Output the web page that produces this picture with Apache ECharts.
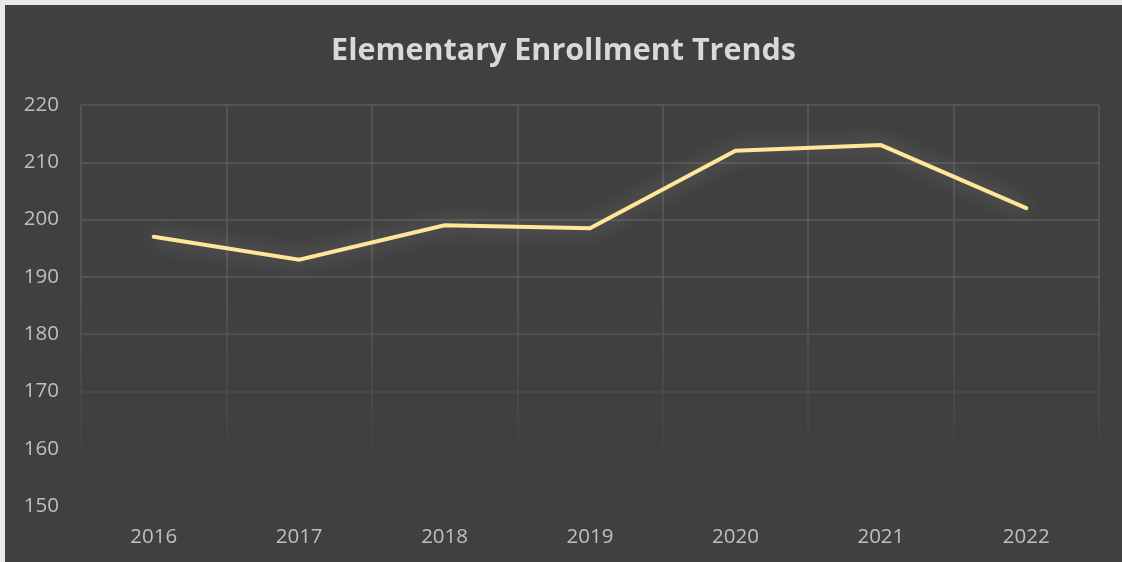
<!DOCTYPE html>
<html>
<head>
<meta charset="utf-8">
<script src="https://cdn.jsdelivr.net/npm/echarts@6/dist/echarts.min.js"></script>
<style>
  html, body { margin: 0; padding: 0; background: #e9e9e9; }
  #chart { position: absolute; left: 5px; top: 5px; width: 1117px; height: 557px; }
</style>
</head>
<body>
<div id="chart"></div>
<script>
// Enrollment per school year
const years = ['2016', '2017', '2018', '2019', '2020', '2021', '2022'];
const enrollment = [197, 193, 199, 198.5, 212, 213, 202];
const yTicks = { min: 150, max: 220, step: 10 };

const chart = echarts.init(document.getElementById('chart'));
const font = '"Open Sans", Lato, sans-serif';

chart.setOption({
  backgroundColor: '#404040',
  animation: false,
  title: {
    text: 'Elementary Enrollment Trends',
    left: 'center',
    top: 26,
    textStyle: { color: '#d9d9d9', fontFamily: font, fontWeight: 'bold', fontSize: 30.5 }
  },
  grid: { left: 76, right: 23, top: 100, bottom: 56 },
  xAxis: {
    type: 'category',
    data: years,
    boundaryGap: true,
    axisLine: { show: false },
    axisTick: { show: false },
    axisLabel: { color: '#bfbfbf', fontFamily: font, fontSize: 20.5, margin: 21 },
    splitLine: { show: true, lineStyle: { color: '#5a5a5a', width: 1.5 } }
  },
  yAxis: {
    type: 'value',
    min: yTicks.min,
    max: yTicks.max,
    interval: yTicks.step,
    axisLine: { show: false },
    axisTick: { show: false },
    axisLabel: { color: '#bfbfbf', fontFamily: font, fontSize: 20.5, margin: 22 },
    splitLine: { lineStyle: { color: '#5a5a5a', width: 1.5 } }
  },
  // soft fade of the gridlines towards the bottom of the plot
  graphic: [{
    type: 'rect',
    z: 1,
    silent: true,
    shape: { x: 74, y: 290, width: 1022, height: 216 },
    style: {
      fill: new echarts.graphic.LinearGradient(0, 0, 0, 1, [
        { offset: 0, color: 'rgba(64,64,64,0)' },
        { offset: 0.72, color: 'rgba(64,64,64,0.88)' },
        { offset: 0.8, color: 'rgba(64,64,64,1)' },
        { offset: 1, color: 'rgba(64,64,64,1)' }
      ])
    }
  }],
  series: [{
    type: 'line',
    data: enrollment,
    z: 5,
    symbol: 'none',
    lineStyle: {
      color: '#ffe699',
      width: 4,
      cap: 'round',
      join: 'miter',
      shadowColor: 'rgba(255,255,255,0.35)',
      shadowBlur: 20
    }
  }]
});
</script>
</body>
</html>
